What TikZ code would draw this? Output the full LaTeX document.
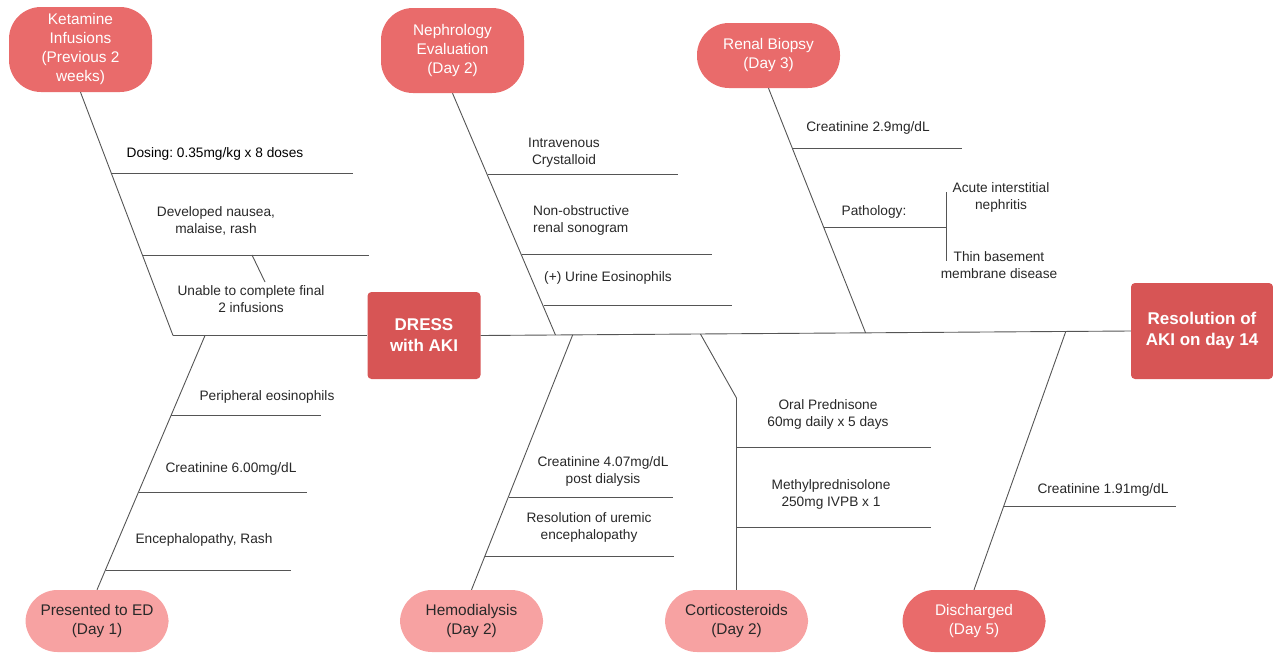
\documentclass[tikz,border=0pt]{standalone}
\usepackage{fontspec}
\setmainfont{Liberation Sans}
\usetikzlibrary{calc}
\definecolor{midred}{RGB}{233,107,107}
\definecolor{darkred}{RGB}{215,85,85}
\definecolor{lightred}{RGB}{247,162,162}
\definecolor{txt}{RGB}{40,40,40}
\definecolor{ln}{RGB}{85,85,85}
\frenchspacing
\begin{document}
\begin{tikzpicture}[x=1pt,y=-1pt,
 pill/.style={rounded corners=32pt, minimum width=143pt, align=center, inner sep=0pt, font=\fontsize{15.4}{19}\selectfont},
 topnode/.style={pill, fill=midred, text=white},
 botnode/.style={pill, fill=lightred, text=txt, minimum height=62pt},
 mainnode/.style={fill=darkred, text=white, rounded corners=4pt, align=center, inner sep=0pt, font=\fontsize{17}{21}\bfseries\selectfont},
 lbl/.style={text=txt, align=center, font=\fontsize{13.7}{17}\selectfont, inner sep=0pt},
 bone/.style={draw=ln, line width=0.9pt}]
\useasboundingbox (0,0) rectangle (1273,653);

% main nodes
\node[mainnode, minimum width=113pt, minimum height=87pt] (dress) at (424,335.5) {DRESS\\with AKI};
\node[mainnode, minimum width=142pt, minimum height=96pt] (res) at (1202,331) {Resolution of\\AKI on day 14};

% top nodes
\node[topnode, minimum height=85pt] (ket) at (80.5,49.5) {Ketamine\\Infusions\\(Previous 2\\weeks)};
\node[topnode, minimum height=85pt] (neph) at (452.5,50.5) {Nephrology\\Evaluation\\(Day 2)};
\node[topnode, minimum height=65pt] (bio) at (768.5,55.5) {Renal Biopsy\\(Day 3)};
\node[topnode, minimum height=62pt] (dis) at (974,621) {Discharged\\(Day 5)};

% bottom nodes
\node[botnode] (ed) at (97,621) {Presented to ED\\(Day 1)};
\node[botnode] (hemo) at (471.5,621) {Hemodialysis\\(Day 2)};
\node[botnode] (cort) at (736.5,621) {Corticosteroids\\(Day 2)};

% spine
\coordinate (kend) at (173,335.5);
\coordinate (edstart) at (205,335.5);
\draw[bone] (kend) -- (dress.west);
\draw[bone] (dress.east) -- (res.west);
\coordinate (nephend) at ($(dress.east)!0.115!(res.west)$);
\coordinate (hemostart) at ($(dress.east)!0.1415!(res.west)$);
\coordinate (cortstart) at ($(dress.east)!0.338!(res.west)$);
\coordinate (bioend) at ($(dress.east)!0.592!(res.west)$);
\coordinate (disstart) at ($(dress.east)!0.9!(res.west)$);

% branches
\draw[bone] (ket.south) -- (kend);
\draw[bone] (edstart) -- (ed.north);
\draw[bone] (neph.south) -- (nephend);
\draw[bone] (hemostart) -- (hemo.north);
\coordinate (cortbend) at (736.5,398);
\draw[bone] (cortstart) -- (cortbend) -- (cort.north);
\draw[bone] (bio.south) -- (bioend);
\draw[bone] (disstart) -- (dis.north);

% ketamine ribs
\coordinate (k1a) at (111.7,173); \coordinate (k1b) at (353,173);
\coordinate (k2a) at (142.7,255); \coordinate (k2b) at (369,255);
\coordinate (k2t) at (252,255); \coordinate (k2u) at (265,282);
\draw[bone] (k1a) -- (k1b);
\draw[bone] (k2a) -- (k2b);
\draw[bone] (k2t) -- (k2u);
\node[lbl, text=black] (l1) at (215,154) {Dosing: 0.35mg/kg x 8 doses};
\node[lbl] (l2) at (216,220.5) {Developed nausea,\\malaise, rash};
\node[lbl] (l3) at (251,299) {Unable to complete final\\2 infusions};

% ED ribs
\coordinate (e1a) at (171.4,415); \coordinate (e1b) at (321,415);
\coordinate (e2a) at (138.7,492); \coordinate (e2b) at (307,492);
\coordinate (e3a) at (105.5,570); \coordinate (e3b) at (291,570);
\draw[bone] (e1a) -- (e1b);
\draw[bone] (e2a) -- (e2b);
\draw[bone] (e3a) -- (e3b);
\node[lbl] (l4) at (267,397) {Peripheral eosinophils};
\node[lbl] (l5) at (231,469) {Creatinine 6.00mg/dL};
\node[lbl] (l6) at (204,540) {Encephalopathy, Rash};

% nephrology ribs
\coordinate (n1a) at (487.8,174); \coordinate (n1b) at (678,174);
\coordinate (n2a) at (522,254); \coordinate (n2b) at (712,254);
\coordinate (n3a) at (544,305); \coordinate (n3b) at (732,305);
\draw[bone] (n1a) -- (n1b);
\draw[bone] (n2a) -- (n2b);
\draw[bone] (n3a) -- (n3b);
\node[lbl] (l7) at (564,152.5) {Intravenous\\Crystalloid};
\node[lbl, align=left, anchor=west] (l8) at (533,220.5) {Non-obstructive\\renal sonogram};
\node[lbl] (l9) at (608,278) {(+) Urine Eosinophils};

% biopsy ribs
\coordinate (b1a) at (792,148); \coordinate (b1b) at (962,148);
\coordinate (b2a) at (824,227); \coordinate (b2b) at (946,227);
\coordinate (brt) at (946,192); \coordinate (brb) at (946,261);
\draw[bone] (b1a) -- (b1b);
\draw[bone] (b2a) -- (b2b);
\draw[bone] (brt) -- (brb);
\node[lbl] (l10) at (868,128) {Creatinine 2.9mg/dL};
\node[lbl] (l11) at (874,212) {Pathology:};
\node[lbl] (l12) at (1001,197.5) {Acute interstitial\\nephritis};
\node[lbl] (l13) at (999,265) {Thin basement\\membrane disease};

% hemodialysis ribs
\coordinate (h1a) at (508.7,497); \coordinate (h1b) at (673,497);
\coordinate (h2a) at (485.4,556); \coordinate (h2b) at (674,556);
\draw[bone] (h1a) -- (h1b);
\draw[bone] (h2a) -- (h2b);
\node[lbl] (l14) at (603,471) {Creatinine 4.07mg/dL\\post dialysis};
\node[lbl] (l15) at (589,527.5) {Resolution of uremic\\encephalopathy};

% corticosteroid ribs
\coordinate (c1a) at (736.5,447); \coordinate (c1b) at (931,447);
\coordinate (c2a) at (736.5,527); \coordinate (c2b) at (931,527);
\draw[bone] (c1a) -- (c1b);
\draw[bone] (c2a) -- (c2b);
\node[lbl] (l16) at (828,414.5) {Oral Prednisone\\60mg daily x 5 days};
\node[lbl] (l17) at (831,494.5) {Methylprednisolone\\250mg IVPB x 1};

% discharged rib
\coordinate (d1a) at (1004,506); \coordinate (d1b) at (1176,506);
\draw[bone] (d1a) -- (d1b);
\node[lbl] (l18) at (1103,490) {Creatinine 1.91mg/dL};
\end{tikzpicture}
\end{document}
